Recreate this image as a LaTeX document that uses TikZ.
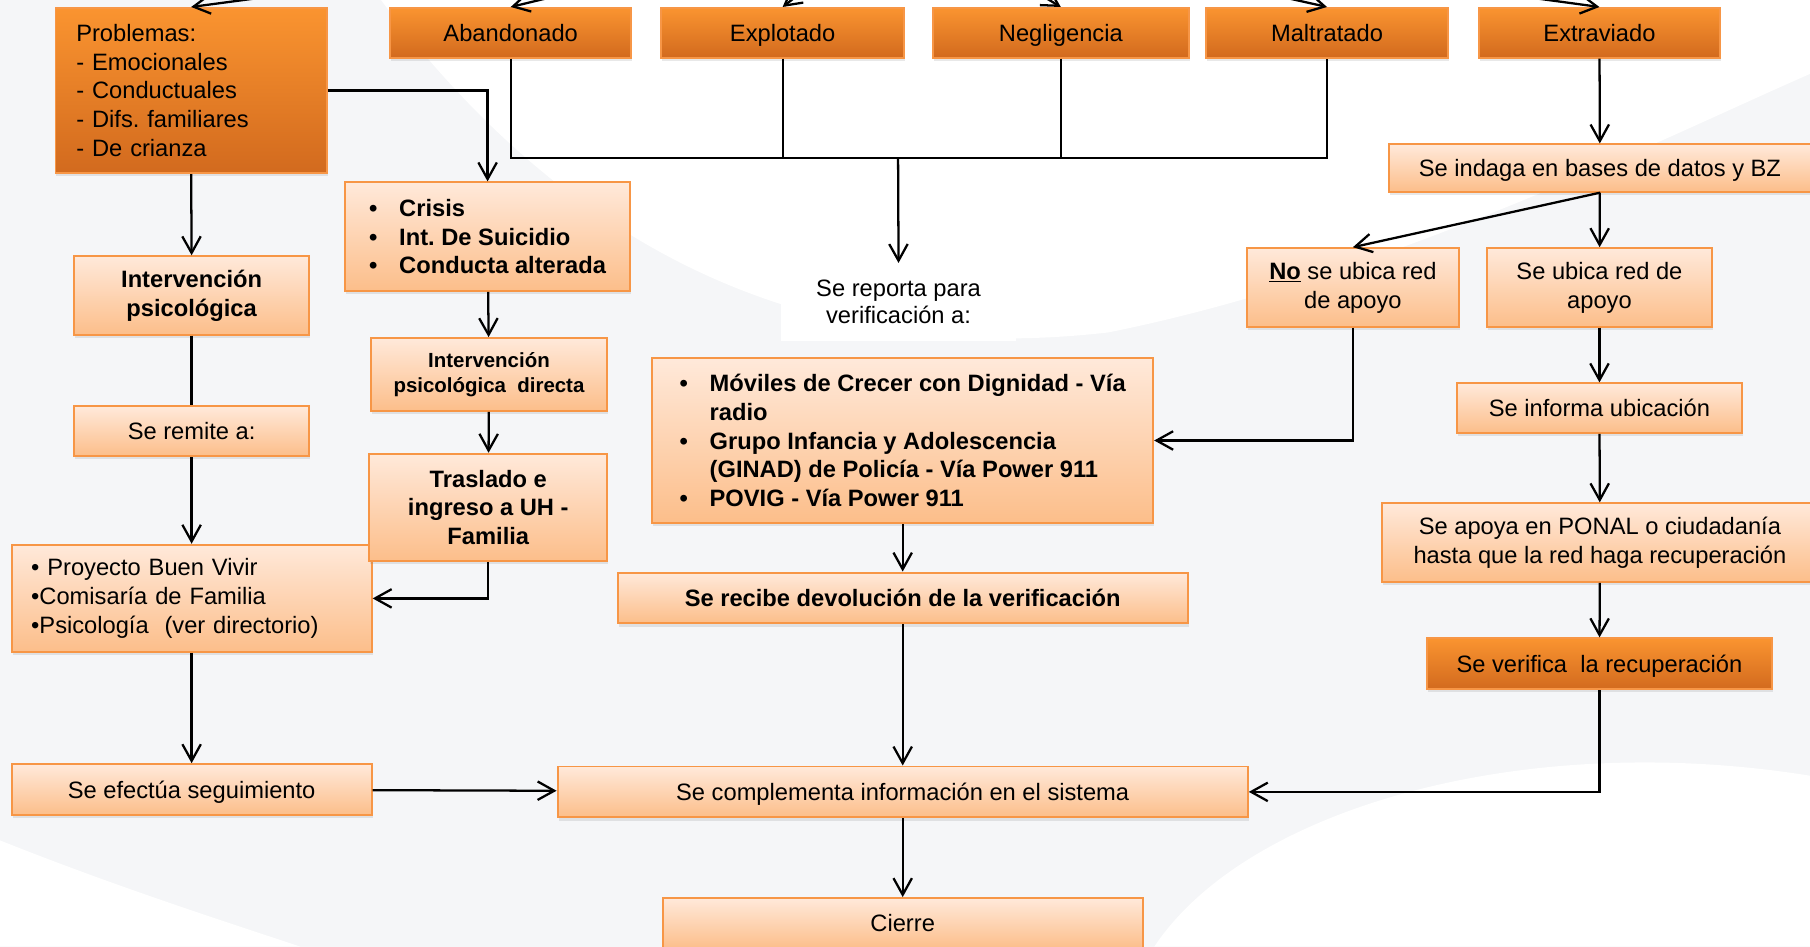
\documentclass[tikz,border=0pt]{standalone}
\usepackage{fontspec}
\setmainfont{Liberation Sans}
\usepackage{xcolor}
\usepackage{tikz}
\usetikzlibrary{positioning,arrows.meta,shadows}

\definecolor{borde}{RGB}{247,150,70}
\definecolor{clarosup}{RGB}{255,233,218}
\definecolor{clarinf}{RGB}{252,190,138}
\definecolor{oscsup}{RGB}{250,148,48}
\definecolor{oscinf}{RGB}{210,106,30}
\definecolor{fondo}{RGB}{245,246,248}

\newcommand{\itm}{\makebox[0.65cm][l]{\textbullet}}
\frenchspacing

\begin{document}
\begin{tikzpicture}[
  caja/.style={draw=borde, line width=1.2pt, top color=clarosup, bottom color=clarinf,
               font=\fontsize{14.6}{17.8}\selectfont, align=center, inner sep=2pt,
               drop shadow={shadow xshift=0.6pt, shadow yshift=-2pt, opacity=0.18}},
  oscura/.style={caja, top color=oscsup, bottom color=oscinf},
  negrita/.style={caja, font=\fontsize{14.6}{17.8}\selectfont\bfseries},
  linea1/.style={text height=13.5pt, text depth=3pt},
  flecha/.style={line width=1.4pt, -{Straight Barb[length=3.6mm, width=4mm]}},
  linea/.style={line width=1.4pt},
]
  \useasboundingbox (0,0) rectangle (39.2,-20.5);
  \clip (0,0) rectangle (39.2,-20.5);

  % --- Background ---
  \fill[fondo] (0,0) rectangle (39.2,-20.5);
  \fill[white] (8.25,0) .. controls (12,-5) and (17,-8) .. (24,-7.2)
    .. controls (30,-6) and (36,-3) .. (39.2,-1.6) -- (39.2,0) -- cycle;
  \fill[white] (25,-20.5) .. controls (27,-17.5) and (33,-15.8) .. (39.2,-16.8)
    -- (39.2,-20.5) -- cycle;
  \fill[white] (0,-18.2) .. controls (2.5,-19.2) and (5,-20) .. (6.5,-20.5)
    -- (0,-20.5) -- cycle;

  % --- Top row ---
  \node[oscura, text width=4.975cm, inner xsep=0.45cm, align=left, minimum height=3.575cm]
    (prob) at (4.14,-1.96)
    {Problemas:\\- Emocionales\\- Conductuales\\- Difs. familiares\\- De crianza};
  \node[oscura, linea1, minimum width=5.225cm, minimum height=1.075cm] (aban) at (11.06,-0.71) {Abandonado};
  \node[oscura, linea1, minimum width=5.25cm,  minimum height=1.075cm] (expl) at (16.95,-0.71) {Explotado};
  \node[oscura, linea1, minimum width=5.55cm,  minimum height=1.075cm] (negl) at (22.975,-0.71) {Negligencia};
  \node[oscura, linea1, minimum width=5.225cm, minimum height=1.075cm] (malt) at (28.74,-0.71) {Maltratado};
  \node[oscura, linea1, minimum width=5.225cm, minimum height=1.075cm] (extr) at (34.64,-0.71) {Extraviado};

  % --- Left column ---
  \node[negrita, minimum width=5.1cm, minimum height=1.7cm] (intpsi) at (4.15,-6.4)
    {Intervención\\psicológica};
  \node[caja, linea1, minimum width=5.1cm, minimum height=1.075cm] (remite) at (4.15,-9.34) {Se remite a:};
  \node[caja, text width=6.95cm, inner xsep=0.425cm, align=left, minimum height=2.325cm]
    (proy) at (4.15,-12.96)
    {\textbullet\ Proyecto Buen Vivir\\\textbullet Comisaría de Familia\\\textbullet Psicología\ \ (ver directorio)};
  \node[caja, linea1, minimum width=7.8cm, minimum height=1.1cm] (segui) at (4.15,-17.1) {Se efectúa seguimiento};

  % --- Crisis column ---
  \node[negrita, align=left, minimum width=6.175cm, minimum height=2.35cm]
    (crisis) at (10.56,-5.125)
    {\itm Crisis\\\itm Int. De Suicidio\\\itm Conducta alterada};
  \node[negrita, font=\fontsize{12.6}{15.6}\selectfont\bfseries, minimum width=5.125cm,
        minimum height=1.575cm] (intdir) at (10.59,-8.11)
    {Intervención\\psicológica\ \ directa};
  \node[negrita, minimum width=5.15cm, minimum height=2.325cm] (trasl) at (10.575,-10.99)
    {Traslado e\\ingreso a UH -\\Familia};

  % --- Center column ---
  \node[fill=white, minimum width=5.075cm, minimum height=1.675cm, align=center,
        font=\fontsize{14.6}{17}\selectfont] (reporta) at (19.46,-6.54)
    {Se reporta para\\verificación a:};
  \node[negrita, align=left, minimum width=10.85cm, minimum height=3.575cm]
    (movil) at (19.55,-9.54)
    {\itm Móviles de Crecer con Dignidad - Vía\\\hspace*{0.65cm}radio\\
     \itm Grupo Infancia y Adolescencia\\\hspace*{0.65cm}(GINAD) de Policía - Vía Power 911\\
     \itm POVIG - Vía Power 911};
  \node[negrita, linea1, minimum width=12.35cm, minimum height=1.1cm] (recibe) at (19.55,-12.95)
    {Se recibe devolución de la verificación};
  \node[caja, linea1, minimum width=14.95cm, minimum height=1.1cm] (compl) at (19.55,-17.15)
    {Se complementa información en el sistema};
  \node[caja, linea1, minimum width=10.4cm, minimum height=1.1cm] (cierre) at (19.55,-20.0) {Cierre};

  % --- Right column ---
  \node[caja, linea1, minimum width=9.15cm, minimum height=1.025cm] (indaga) at (34.65,-3.64)
    {Se indaga en bases de datos y BZ};
  \node[caja, minimum width=4.6cm, minimum height=1.7cm] (noubica) at (29.3,-6.225)
    {\underline{\textbf{No}} se ubica red\\de apoyo};
  \node[caja, minimum width=4.875cm, minimum height=1.7cm] (siubica) at (34.64,-6.225)
    {Se ubica red de\\apoyo};
  \node[caja, linea1, minimum width=6.175cm, minimum height=1.075cm] (informa) at (34.64,-8.84)
    {Se informa ubicación};
  \node[caja, minimum width=9.45cm, minimum height=1.7cm] (apoya) at (34.65,-11.75)
    {Se apoya en PONAL o ciudadanía\\hasta que la red haga recuperación};
  \node[oscura, linea1, minimum width=7.475cm, minimum height=1.1cm] (verif) at (34.64,-14.375)
    {Se verifica\ \ la recuperación};

  % --- Arrows entering from above ---
  \coordinate (origen) at (19.575,1.9);
  \foreach \n in {prob,aban,expl,negl,malt,extr}
    \draw[flecha] (origen) -- (\n.north);

  % --- Top bus ---
  \coordinate (bus) at (19.45,-3.425);
  \draw[linea] (aban.south) |- (bus) -| (malt.south);
  \draw[linea] (expl.south) -- (expl.south |- bus);
  \draw[linea] (negl.south) -- (negl.south |- bus);
  \draw[flecha] (bus) -- (reporta.north);

  % --- Left branch ---
  \draw[flecha] (prob.south) -- (intpsi.north);
  \draw[flecha] (prob.east) -| (crisis.north);
  \draw[linea] (intpsi) -- (remite);
  \draw[flecha] (remite) -- (proy);
  \draw[flecha] (proy) -- (segui);
  \draw[flecha] (segui) -- (compl);
  \draw[flecha] (crisis) -- (intdir);
  \draw[flecha] (intdir) -- (trasl);
  \draw[flecha] (trasl.south) |- (proy.east);

  % --- Center branch ---
  \draw[flecha] (movil) -- (recibe);
  \draw[flecha] (recibe) -- (compl);
  \draw[flecha] (compl) -- (cierre);

  % --- Right branch ---
  \draw[flecha] (extr) -- (indaga);
  \draw[flecha] (indaga.south) -- (noubica.north);
  \draw[flecha] (indaga) -- (siubica);
  \draw[flecha] (noubica.south) |- (movil.east);
  \draw[flecha] (siubica) -- (informa);
  \draw[flecha] (informa) -- (apoya);
  \draw[flecha] (apoya) -- (verif);
  \draw[flecha] (verif.south) |- (compl.east);

\end{tikzpicture}
\end{document}
